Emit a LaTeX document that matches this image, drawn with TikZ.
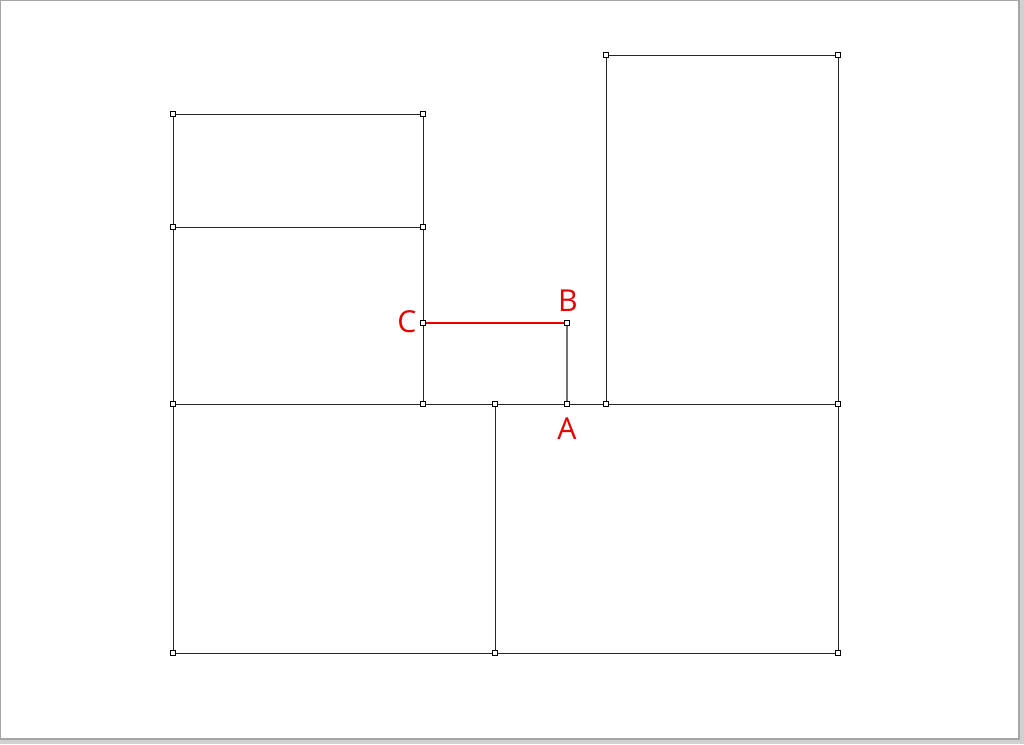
\documentclass[tikz,border=0pt]{standalone}
\usepackage{fontspec}
\setmainfont{Open Sans}
\begin{document}
\begin{tikzpicture}[x=0.025cm, y=-0.025cm,
    edge/.style={black!85, line width=0.7pt},
    redline/.style={red!90!black, line width=1.1pt},
    grayline/.style={black!55, line width=1.1pt},
    pt/.style={draw=black, fill=white, line width=0.45pt, inner sep=0pt, minimum size=3.9pt},
    lbl/.style={text=red!90!black, font=\fontsize{21.5}{25}\selectfont, inner sep=0pt}]
            % Page and shadow
            \fill[black!18] (0,0) rectangle (1024,744);
            \fill[white] (0,0) rectangle (1019,739);
            \draw[black!35, line width=1pt] (0.7,0.7) rectangle (1019,739);
            \useasboundingbox (0,0) rectangle (1024,744);
            
            \coordinate (p1) at (173,114); \coordinate (p2) at (423,114);
            \coordinate (p3) at (173,227); \coordinate (p4) at (423,227);
            \coordinate (p5) at (173,404); \coordinate (p6) at (423,404);
            \coordinate (p7) at (495,404); \coordinate (A) at (567,404);
            \coordinate (p8) at (606,404); \coordinate (p9) at (838,404);
            \coordinate (q1) at (606,55); \coordinate (q2) at (838,55);
            \coordinate (q3) at (173,653); \coordinate (q4) at (495,653);
            \coordinate (q5) at (838,653);
            \coordinate (C) at (423,323); \coordinate (B) at (567,323);
            
            % Left stacked rectangles
            \draw[edge] (p1)--(p2)--(p4)--(p3)--cycle;
            \draw[edge] (p4)--(p6);
            \draw[edge] (p3)--(p5);
            % Right tall rectangle
            \draw[edge] (p8)--(q1)--(q2)--(p9);
            % Bottom rectangles
            \draw[edge] (p5)--(p9)--(q5)--(q3)--cycle;
            \draw[edge] (p7)--(q4);
            
            % Segments
            \draw[grayline] (A)--(B);
            \draw[redline] (C)--(B);
            
            \foreach \p in {p1,p2,p3,p4,p5,p6,p7,A,p8,p9,q1,q2,q3,q4,q5,C,B}
                \node[pt] at (\p) {};
            
            \node[lbl] (la) at (567,429) {A};
            \node[lbl] (lb) at (568,301) {B};
            \node[lbl] (lc) at (407,322) {C};
        \end{tikzpicture}
\end{document}
